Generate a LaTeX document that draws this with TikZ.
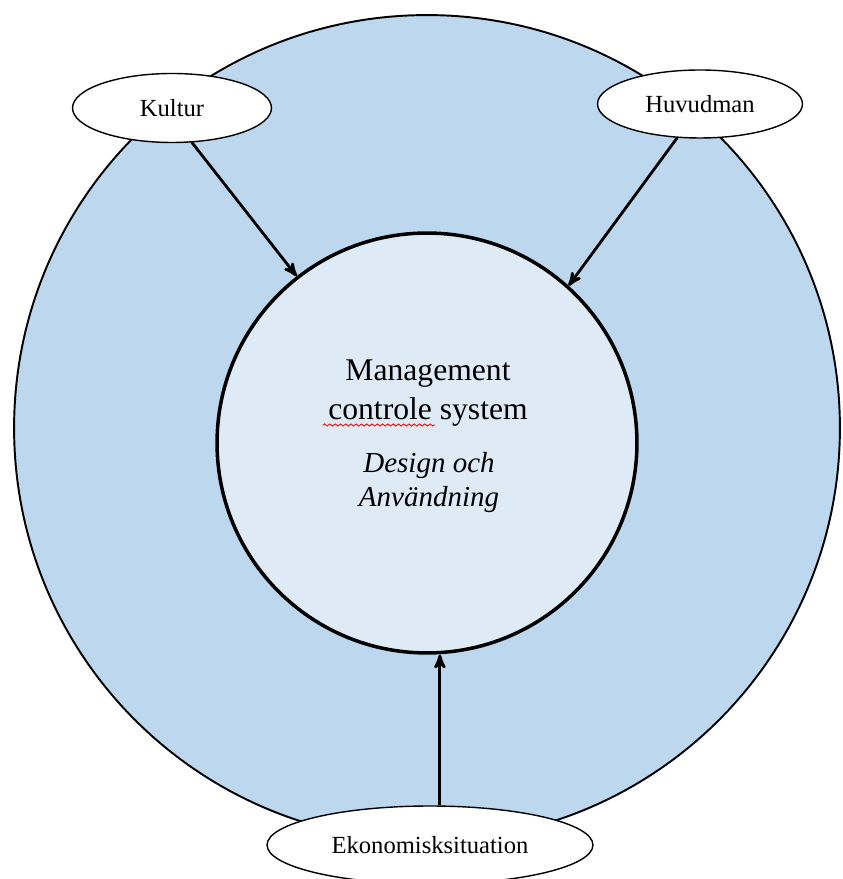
\documentclass[tikz,border=0pt]{standalone}
\usepackage{fontspec}
\setmainfont{Liberation Serif}
\usetikzlibrary{arrows}
\usetikzlibrary{shapes.geometric}
\usetikzlibrary{decorations.pathmorphing}
\definecolor{lblue}{RGB}{189,215,238}
\definecolor{pblue}{RGB}{222,235,247}

\begin{document}
\begin{tikzpicture}[x=0.02cm,y=0.02cm,->,>=stealth',line width=1.6pt]
      \tikzstyle{factor}=[ellipse,draw=black,fill=white,line width=0.8pt,inner sep=0pt,font=\fontsize{14}{16}\selectfont]
      \tikzstyle{ring}=[circle,draw=black,inner sep=0pt]

      \useasboundingbox (0,0) rectangle (842,879);

      \node[ring,fill=lblue,line width=1.1pt,minimum size=16.52cm]	(env) at (427,451) {};
      \node[ring,fill=pblue,line width=2pt,minimum size=8.4cm]	(mcs) at (427,436) {};

      % base of a two-line node sits on its last line
      \node[font=\fontsize{18}{22.7}\selectfont,align=center,anchor=base]
		(mtitle) at ([shift={(1,23)}]mcs.center) {Management\\controle system};
      \node[font=\itshape\fontsize{16.5}{19.9}\selectfont,align=center,anchor=base]
		(msub) at ([shift={(2,-64)}]mcs.center) {Design och\\Användning};
      \draw[-,red,line width=0.5pt,decorate,decoration={snake,amplitude=0.6pt,segment length=3pt}]
		([shift={(-104,18)}]mcs.center) -- ([shift={(8,18)}]mcs.center);

      \node[factor,minimum width=3.98cm,minimum height=1.38cm]	(kultur) at (172,771) {Kultur};
      \node[factor,minimum width=4.1cm,minimum height=1.36cm]	(huvud) at (700,775) {Huvudman};
      \node[factor,minimum width=6.52cm,minimum height=1.56cm]	(eko) at (430,34) {Ekonomisksituation};

      \path
	(kultur.-60)	edge	(mcs.128)
	(huvud.-124)	edge	(mcs.48)
	(eko.76)	edge	(eko.76 |- mcs.south);

\end{tikzpicture}
\end{document}
